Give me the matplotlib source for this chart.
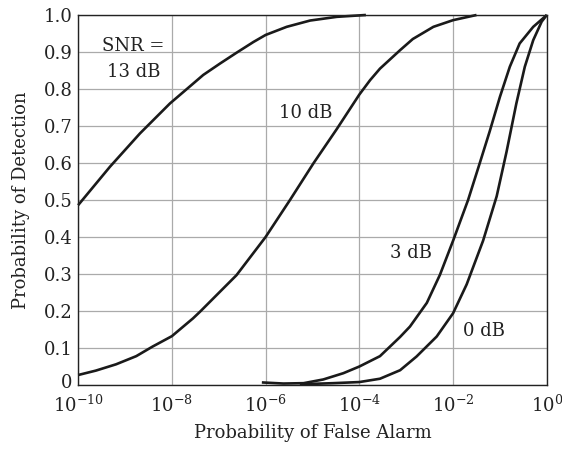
import numpy as np
from matplotlib import pyplot as plt
from matplotlib.transforms import ScaledTranslation

plt.rcParams['font.family'] = 'DejaVu Serif'
plt.rcParams['mathtext.fontset'] = 'dejavuserif'

# log10(Pfa) and Pd for each SNR
snr13_logx = [-10, -9.32, -8.68, -8.04, -7.68, -7.33, -6.97, -6.62, -6.26, -6.0,
              -5.55, -5.05, -4.48, -3.86]
snr13_pd = [0.486, 0.59, 0.68, 0.761, 0.80, 0.838, 0.869, 0.898, 0.927, 0.946,
            0.968, 0.985, 0.995, 1.0]

snr10_logx = [-10, -9.62, -9.19, -8.76, -8.41, -8.0, -7.55, -7.40, -6.62, -6.0,
              -5.48, -4.98, -4.48, -4.0, -3.77, -3.56, -3.13, -2.86, -2.42, -2.0, -1.50]
snr10_pd = [0.027, 0.039, 0.056, 0.078, 0.104, 0.132, 0.18, 0.198, 0.297, 0.40,
            0.50, 0.599, 0.692, 0.785, 0.824, 0.855, 0.905, 0.935, 0.968, 0.986, 1.0]

snr3_logx = [-6.08, -5.62, -5.19, -4.77, -4.34, -4.0, -3.56, -3.13, -2.92, -2.56,
             -2.28, -2.0, -1.68, -1.43, -1.22, -1.0, -0.79, -0.58, -0.29, 0.0]
snr3_pd = [0.007, 0.004, 0.005, 0.015, 0.032, 0.05, 0.078, 0.13, 0.158, 0.222,
           0.298, 0.39, 0.50, 0.60, 0.685, 0.779, 0.86, 0.923, 0.968, 1.0]

snr0_logx = [-5.27, -4.56, -4.0, -3.56, -3.13, -2.78, -2.35, -2.0, -1.71, -1.36,
             -1.07, -0.86, -0.65, -0.47, -0.29, -0.11, 0.0]
snr0_pd = [0.002, 0.005, 0.008, 0.017, 0.04, 0.077, 0.131, 0.194, 0.272, 0.39,
           0.51, 0.63, 0.761, 0.86, 0.932, 0.982, 1.0]

fig = plt.figure(figsize=(5.62, 4.5), dpi=100)
ax = fig.add_axes([0.139, 0.1444, 0.834, 0.8223])

for lx, pd in [(snr13_logx, snr13_pd), (snr10_logx, snr10_pd),
               (snr3_logx, snr3_pd), (snr0_logx, snr0_pd)]:
    ax.plot(10.0 ** np.array(lx), pd, color='#1a1a1a', linewidth=1.9,
            solid_capstyle='butt', solid_joinstyle='round', clip_on=False)

ax.set_xscale('log')
ax.set_xlim(1e-10, 1)
ax.set_ylim(0, 1)
ax.set_xticks([1e-10, 1e-8, 1e-6, 1e-4, 1e-2, 1])
ax.set_xticklabels([r'$10^{-10}$', r'$10^{-8}$', r'$10^{-6}$', r'$10^{-4}$', r'$10^{-2}$', r'$10^{0}$'])
ax.minorticks_off()
ax.set_yticks(np.arange(0, 1.01, 0.1))
ax.set_yticklabels(['0', '0.1', '0.2', '0.3', '0.4', '0.5', '0.6', '0.7', '0.8', '0.9', '1.0'])
ax.tick_params(length=0, labelsize=13, colors='#222222')
ax.tick_params(axis='x', pad=7)
ax.tick_params(axis='y', pad=4)
ax.grid(True, color='#aaaaaa', linewidth=0.9)
for s in ax.spines.values():
    s.set_color('#222222')
    s.set_linewidth(1.0)

# nudge the "0" up a little so it clears 10^-10
zero_lbl = ax.get_yticklabels()[0]
zero_lbl.set_transform(zero_lbl.get_transform() + ScaledTranslation(0, 3 / 72, fig.dpi_scale_trans))

ax.set_xlabel('Probability of False Alarm', fontsize=13, color='#222222', labelpad=6)
ax.set_ylabel('Probability of Detection', fontsize=13, color='#222222', labelpad=10)

tk = dict(fontsize=13, color='#222222', ha='center', va='center')
ax.text(10 ** -8.83, 0.916, 'SNR =', **tk)
ax.text(10 ** -8.81, 0.846, '13 dB', **tk)
ax.text(10 ** -5.14, 0.735, '10 dB', **tk)
ax.text(10 ** -2.9, 0.357, '3 dB', **tk)
ax.text(10 ** -1.34, 0.146, '0 dB', **tk)

plt.savefig('out.png', dpi=100)
